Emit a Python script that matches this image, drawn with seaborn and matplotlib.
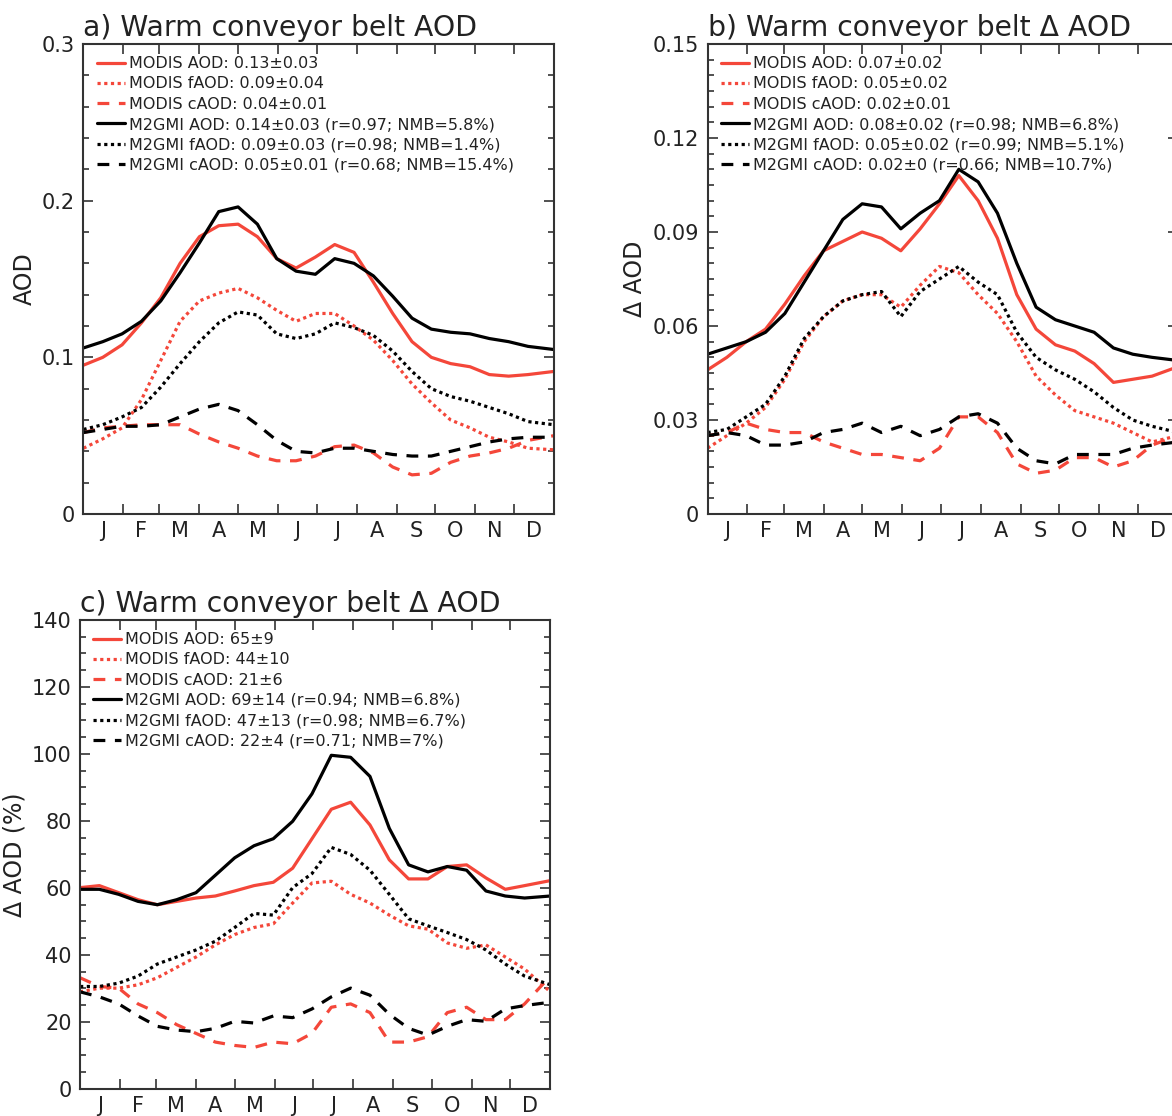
import numpy as np
import pandas as pd
import seaborn as sns
import matplotlib.pyplot as plt

# day of year for the sampled points
days = [0, 15, 30, 45, 60, 75, 90, 105, 120, 135, 150, 165, 180,
        195, 210, 225, 240, 255, 270, 285, 300, 315, 330, 345, 365]

month_edges = [31, 59, 90, 120, 151, 181, 212, 243, 273, 304, 334]
month_mids = [15.5, 45, 74.5, 105, 135.5, 166, 196.5, 227.5, 258, 288.5, 319, 349.5]
month_labels = ['J', 'F', 'M', 'A', 'M', 'J', 'J', 'A', 'S', 'O', 'N', 'D']

# a) AOD
a_modis_aod = [0.095, 0.100, 0.108, 0.122, 0.138, 0.160, 0.177, 0.184, 0.185, 0.177, 0.163, 0.157, 0.164,
               0.172, 0.167, 0.148, 0.128, 0.110, 0.100, 0.096, 0.094, 0.089, 0.088, 0.089, 0.091]
a_modis_faod = [0.042, 0.048, 0.055, 0.073, 0.098, 0.123, 0.136, 0.141, 0.144, 0.138, 0.130, 0.123, 0.128,
                0.128, 0.120, 0.111, 0.098, 0.083, 0.071, 0.060, 0.055, 0.049, 0.046, 0.042, 0.041]
a_modis_caod = [0.052, 0.055, 0.056, 0.057, 0.057, 0.057, 0.051, 0.046, 0.042, 0.037, 0.034, 0.034, 0.037,
                0.043, 0.044, 0.039, 0.030, 0.025, 0.026, 0.033, 0.037, 0.039, 0.042, 0.047, 0.050]
a_m2gmi_aod = [0.106, 0.110, 0.115, 0.123, 0.136, 0.154, 0.173, 0.193, 0.196, 0.185, 0.163, 0.155, 0.153,
               0.163, 0.160, 0.152, 0.139, 0.125, 0.118, 0.116, 0.115, 0.112, 0.110, 0.107, 0.105]
a_m2gmi_faod = [0.054, 0.057, 0.062, 0.068, 0.081, 0.096, 0.110, 0.122, 0.129, 0.127, 0.115, 0.112, 0.115,
                0.122, 0.119, 0.114, 0.104, 0.091, 0.080, 0.075, 0.072, 0.068, 0.064, 0.059, 0.057]
a_m2gmi_caod = [0.052, 0.054, 0.056, 0.056, 0.057, 0.062, 0.067, 0.070, 0.066, 0.057, 0.047, 0.040, 0.039,
                0.042, 0.042, 0.040, 0.038, 0.037, 0.037, 0.040, 0.043, 0.046, 0.048, 0.049, 0.049]

# b) delta AOD
b_modis_aod = [0.046, 0.050, 0.055, 0.059, 0.067, 0.076, 0.084, 0.087, 0.090, 0.088, 0.084, 0.091, 0.099,
               0.108, 0.100, 0.088, 0.070, 0.059, 0.054, 0.052, 0.048, 0.042, 0.043, 0.044, 0.047]
b_modis_faod = [0.021, 0.025, 0.029, 0.034, 0.043, 0.055, 0.063, 0.068, 0.070, 0.070, 0.066, 0.073, 0.079,
                0.077, 0.070, 0.064, 0.055, 0.044, 0.038, 0.033, 0.031, 0.029, 0.026, 0.023, 0.025]
b_modis_caod = [0.025, 0.026, 0.029, 0.027, 0.026, 0.026, 0.023, 0.021, 0.019, 0.019, 0.018, 0.017, 0.021,
                0.031, 0.031, 0.026, 0.016, 0.013, 0.014, 0.018, 0.018, 0.015, 0.017, 0.022, 0.025]
b_m2gmi_aod = [0.051, 0.053, 0.055, 0.058, 0.064, 0.074, 0.084, 0.094, 0.099, 0.098, 0.091, 0.096, 0.100,
               0.110, 0.106, 0.096, 0.080, 0.066, 0.062, 0.060, 0.058, 0.053, 0.051, 0.050, 0.049]
b_m2gmi_faod = [0.026, 0.027, 0.031, 0.035, 0.044, 0.056, 0.063, 0.068, 0.070, 0.071, 0.063, 0.071, 0.075,
                0.079, 0.074, 0.070, 0.058, 0.050, 0.046, 0.043, 0.039, 0.034, 0.030, 0.028, 0.026]
b_m2gmi_caod = [0.025, 0.026, 0.025, 0.022, 0.022, 0.023, 0.026, 0.027, 0.029, 0.026, 0.028, 0.025, 0.027,
                0.031, 0.032, 0.029, 0.021, 0.017, 0.016, 0.019, 0.019, 0.019, 0.021, 0.022, 0.023]

# c) delta AOD in percent
c_modis_aod = [60.1, 60.7, 58.6, 56.5, 55.0, 56.0, 57.0, 57.6, 59.1, 60.7, 61.7, 65.9, 74.7,
               83.5, 85.6, 78.8, 68.4, 62.7, 62.7, 66.4, 66.9, 63.0, 59.6, 60.7, 62.2]
c_modis_faod = [29.0, 30.1, 30.1, 31.1, 33.2, 36.3, 39.4, 43.0, 46.1, 48.2, 49.3, 55.5, 61.5,
                62.0, 58.1, 55.5, 51.9, 48.7, 47.7, 43.6, 42.0, 43.0, 39.4, 35.8, 29.0]
c_modis_caod = [33.2, 30.6, 30.1, 25.4, 22.8, 19.2, 16.6, 14.0, 13.0, 12.4, 14.0, 13.5, 16.6,
                24.4, 25.4, 22.8, 14.0, 14.0, 15.6, 22.8, 24.4, 20.7, 20.7, 25.4, 33.7]
c_m2gmi_aod = [59.6, 59.6, 58.1, 56.0, 55.0, 56.5, 58.6, 63.8, 69.0, 72.6, 74.7, 79.9, 88.1,
               99.6, 99.0, 93.3, 77.8, 66.9, 64.8, 66.4, 65.3, 59.1, 57.6, 57.0, 57.6]
c_m2gmi_faod = [30.6, 30.6, 31.6, 33.7, 37.3, 39.4, 41.5, 44.1, 48.2, 52.4, 51.9, 60.1, 64.3,
                72.1, 70.0, 65.3, 58.1, 50.8, 48.7, 46.7, 44.6, 41.5, 37.3, 33.7, 31.1]
c_m2gmi_caod = [29.0, 27.5, 25.4, 21.8, 18.7, 17.6, 17.1, 18.1, 20.2, 19.7, 21.8, 21.3, 23.9,
                27.5, 30.1, 28.0, 22.3, 18.1, 16.1, 18.7, 20.7, 20.2, 23.9, 24.9, 25.9]

a_labels = ['MODIS AOD: 0.13±0.03', 'MODIS fAOD: 0.09±0.04', 'MODIS cAOD: 0.04±0.01',
            'M2GMI AOD: 0.14±0.03 (r=0.97; NMB=5.8%)', 'M2GMI fAOD: 0.09±0.03 (r=0.98; NMB=1.4%)',
            'M2GMI cAOD: 0.05±0.01 (r=0.68; NMB=15.4%)']
b_labels = ['MODIS AOD: 0.07±0.02', 'MODIS fAOD: 0.05±0.02', 'MODIS cAOD: 0.02±0.01',
            'M2GMI AOD: 0.08±0.02 (r=0.98; NMB=6.8%)', 'M2GMI fAOD: 0.05±0.02 (r=0.99; NMB=5.1%)',
            'M2GMI cAOD: 0.02±0 (r=0.66; NMB=10.7%)']
c_labels = ['MODIS AOD: 65±9', 'MODIS fAOD: 44±10', 'MODIS cAOD: 21±6',
            'M2GMI AOD: 69±14 (r=0.94; NMB=6.8%)', 'M2GMI fAOD: 47±13 (r=0.98; NMB=6.7%)',
            'M2GMI cAOD: 22±4 (r=0.71; NMB=7%)']

RED = '#f4473a'
colors = [RED, RED, RED, 'black', 'black', 'black']
dashes = [None, (1, 1.1), (3.7, 3.0), None, (1, 1.1), (3.7, 3.0)]

sns.set_style('ticks')
plt.rcParams['font.family'] = ['DejaVu Sans']
plt.rcParams['text.color'] = '#222222'
plt.rcParams['axes.labelcolor'] = '#222222'
plt.rcParams['xtick.color'] = '#333333'
plt.rcParams['ytick.color'] = '#333333'
plt.rcParams['xtick.labelcolor'] = '#222222'
plt.rcParams['ytick.labelcolor'] = '#222222'


def draw_panel(ax, series, labels, title, ylabel, ymax, major, minor, yfmt):
    for vals, lab, col, dsh in zip(series, labels, colors, dashes):
        sns.lineplot(x=days, y=vals, color=col, lw=2.3, label=lab, ax=ax)
        line = ax.lines[-1]
        if dsh is not None:
            line.set_dashes(dsh)

    ax.set_xlim(0, 365)
    ax.set_ylim(0, ymax)
    ax.set_xticks(month_edges)
    ax.set_xticklabels([])
    ax.set_xticks(month_mids, minor=True)
    ax.set_xticklabels(month_labels, minor=True, fontsize=15)
    yt = np.arange(0, ymax + major / 2, major)
    ax.set_yticks(yt)
    ax.set_yticklabels([yfmt(v) for v in yt], fontsize=15)
    ax.set_yticks(np.arange(0, ymax + minor / 2, minor), minor=True)

    ax.tick_params(axis='both', which='both', direction='in', top=True, right=True, width=1.2)
    ax.tick_params(axis='x', which='major', length=7)
    ax.tick_params(axis='x', which='minor', length=0, pad=5)
    ax.tick_params(axis='y', which='major', length=7, pad=6)
    ax.tick_params(axis='y', which='minor', length=4)
    for sp in ax.spines.values():
        sp.set_linewidth(1.5)
        sp.set_color('#333333')

    ax.set_xlabel('')
    ax.set_ylabel(ylabel, fontsize=17, labelpad=4)
    ax.set_title(title, loc='left', fontsize=20.3, pad=6)
    ax.legend(loc='upper left', bbox_to_anchor=(0.028, 0.974), frameon=False, fontsize=11.5,
              handlelength=1.75, handletextpad=0.25, labelspacing=0.33, borderpad=0, borderaxespad=0)


fig = plt.figure(figsize=(11.72, 11.16), dpi=100)
ax_a = fig.add_axes([0.0712, 0.5394, 0.4013, 0.4212])
ax_b = fig.add_axes([0.6037, 0.5394, 0.4013, 0.4212])
ax_c = fig.add_axes([0.0683, 0.0242, 0.4013, 0.4203])

draw_panel(ax_a, [a_modis_aod, a_modis_faod, a_modis_caod, a_m2gmi_aod, a_m2gmi_faod, a_m2gmi_caod],
           a_labels, 'a) Warm conveyor belt AOD', 'AOD', 0.3, 0.1, 0.02,
           lambda v: '0' if v == 0 else f'{v:.1f}')
draw_panel(ax_b, [b_modis_aod, b_modis_faod, b_modis_caod, b_m2gmi_aod, b_m2gmi_faod, b_m2gmi_caod],
           b_labels, 'b) Warm conveyor belt Δ AOD', 'Δ AOD', 0.15, 0.03, 0.005,
           lambda v: '0' if v == 0 else f'{v:.2f}')
draw_panel(ax_c, [c_modis_aod, c_modis_faod, c_modis_caod, c_m2gmi_aod, c_m2gmi_faod, c_m2gmi_caod],
           c_labels, 'c) Warm conveyor belt Δ AOD', 'Δ AOD (%)', 140, 20, 5,
           lambda v: f'{v:.0f}')

fig.savefig('out.png', dpi=100)
